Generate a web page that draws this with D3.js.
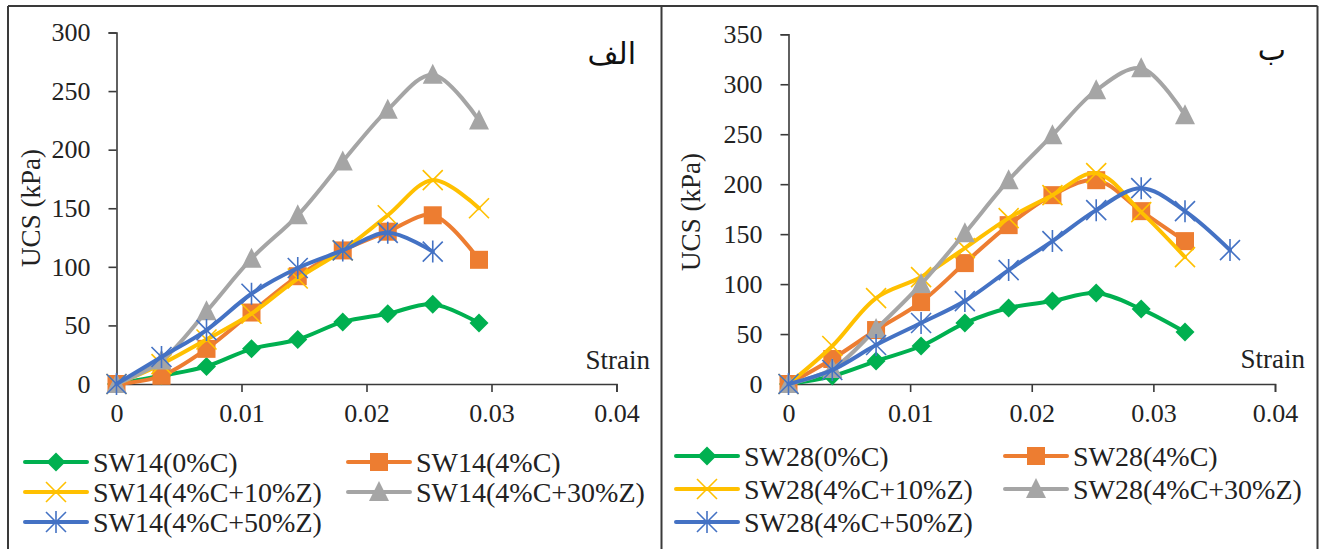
<!DOCTYPE html>
<html><head><meta charset="utf-8">
<script src="https://cdn.jsdelivr.net/npm/d3@7"></script>
<style>html,body{margin:0;padding:0;background:#fff;}svg{display:block;}</style>
</head><body>
<svg id="c" width="1319" height="549"></svg>
<script>
// ---- data ----
const strainSW14 = [0, 0.0036, 0.0072, 0.0108, 0.0145, 0.0181, 0.0217, 0.0253, 0.029];
const strainSW28 = [0, 0.0036, 0.0072, 0.0109, 0.0145, 0.0181, 0.0217, 0.0253, 0.029, 0.0326, 0.0363];
const namesSW14 = ["SW14(0%C)", "SW14(4%C)", "SW14(4%C+10%Z)", "SW14(4%C+30%Z)", "SW14(4%C+50%Z)"];
const namesSW28 = ["SW28(0%C)", "SW28(4%C)", "SW28(4%C+10%Z)", "SW28(4%C+30%Z)", "SW28(4%C+50%Z)"];
const sw14_0C   = [0, 7, 15, 30, 38, 53, 60, 68, 52];
const sw14_4C   = [0, 7, 30, 61, 92, 114, 130, 144, 106];
const sw14_10Z  = [0, 17, 38, 60, 90, 114, 144, 174, 150];
const sw14_30Z  = [0, 20, 62, 107, 144, 190, 234, 264, 225];
const sw14_50Z  = [0, 23, 46, 77, 99, 114, 129, 113];
const sw28_0C   = [0, 8, 23, 38, 61, 76, 83, 91, 75, 52];
const sw28_4C   = [0, 25, 54, 82, 121, 159, 189, 204, 173, 143];
const sw28_10Z  = [0, 38, 86, 107, 136, 166, 189, 211, 172, 127];
const sw28_30Z  = [0, 15, 55, 100, 151, 204, 249, 294, 316, 269];
const sw28_50Z  = [0, 14, 39, 61, 83, 114, 143, 174, 196, 173, 134];
const xTicks = [0, 0.01, 0.02, 0.03, 0.04];
const yTicksA = [0, 50, 100, 150, 200, 250, 300];
const yTicksB = [0, 50, 100, 150, 200, 250, 300, 350];
const colors = ["#00B050", "#ED7D31", "#FFC000", "#A5A5A5", "#4472C4"];
const markers = ["diamond", "square", "x", "triangle", "star"];

const svg = d3.select("#c");
const SERIF = "'Liberation Serif','Times New Roman',serif";

// frame
const fr = svg.append("g").attr("stroke", "#3a3a3a").attr("stroke-width", 2);
fr.append("line").attr("x1", 8).attr("x2", 1317.5).attr("y1", 6).attr("y2", 6);
fr.append("line").attr("x1", 8).attr("x2", 8).attr("y1", 6).attr("y2", 549);
fr.append("line").attr("x1", 661.5).attr("x2", 661.5).attr("y1", 6).attr("y2", 549);
fr.append("line").attr("x1", 1317.5).attr("x2", 1317.5).attr("y1", 6).attr("y2", 549);

function marker(g, type, x, y, color) {
  const s = 9.5;
  if (type === "diamond") {
    g.append("path").attr("d", `M${x},${y - s}L${x + s},${y}L${x},${y + s}L${x - s},${y}Z`).attr("fill", color);
  } else if (type === "square") {
    g.append("rect").attr("x", x - 9).attr("y", y - 9).attr("width", 18).attr("height", 18).attr("fill", color);
  } else if (type === "triangle") {
    g.append("path").attr("d", `M${x},${y - 11}L${x + 10},${y + 9}L${x - 10},${y + 9}Z`).attr("fill", color);
  } else if (type === "x") {
    g.append("path").attr("d", `M${x - 10},${y - 10}L${x + 10},${y + 10}M${x - 10},${y + 10}L${x + 10},${y - 10}`)
      .attr("stroke", color).attr("stroke-width", 1.6).attr("fill", "none");
  } else if (type === "star") {
    g.append("path").attr("d", `M${x - 10},${y - 10}L${x + 10},${y + 10}M${x - 10},${y + 10}L${x + 10},${y - 10}M${x},${y - 11}L${x},${y + 11}`)
      .attr("stroke", color).attr("stroke-width", 1.6).attr("fill", "none");
  }
}

function panel(cfg) {
  const x = d3.scaleLinear().domain([0, 0.04]).range(cfg.xr);
  const y = d3.scaleLinear().domain([0, cfg.ymax]).range(cfg.yr);
  const g = svg.append("g");
  // axes
  const ax = g.append("g").attr("transform", `translate(0,${y(0)})`)
    .call(d3.axisBottom(x).tickValues(xTicks).tickSize(8).tickPadding(12).tickFormat(d => d === 0 ? "0" : d3.format(".2f")(d)));
  ax.select(".domain").attr("stroke", "#3a3a3a").attr("stroke-width", 1.6);
  ax.selectAll(".tick line").attr("stroke", "#3a3a3a").attr("stroke-width", 1.6);
  ax.selectAll("text").attr("font-family", SERIF).attr("font-size", 26).attr("fill", "#222").attr("dy", "0.71em");
  const ay = g.append("g").attr("transform", `translate(${x(0)},0)`)
    .call(d3.axisLeft(y).tickValues(cfg.yTicks).tickSize(8).tickPadding(18));
  ay.select(".domain").attr("stroke", "#3a3a3a").attr("stroke-width", 1.6);
  ay.selectAll(".tick line").attr("stroke", "#3a3a3a").attr("stroke-width", 1.6);
  ay.selectAll("text").attr("font-family", SERIF).attr("font-size", 26).attr("fill", "#222");
  // titles
  g.append("text").attr("transform", `translate(${cfg.ytx},${cfg.yty}) rotate(-90)`)
    .attr("text-anchor", "middle").attr("dy", "0.35em")
    .attr("font-family", SERIF).attr("font-size", 27).attr("fill", "#222").text("UCS (kPa)");
  g.append("text").attr("x", cfg.strainX).attr("y", cfg.strainY).attr("text-anchor", "end")
    .attr("font-family", SERIF).attr("font-size", 27).attr("fill", "#222").text("Strain");
  g.append("text").attr("x", cfg.labX).attr("y", cfg.labY).attr("text-anchor", "end")
    .attr("font-family", "'DejaVu Sans','Noto Sans',sans-serif").attr("font-size", 30).attr("fill", "#111").text(cfg.label);
  // series
  const line = d3.line().x(d => x(d[0])).y(d => y(d[1])).curve(d3.curveCatmullRom.alpha(0.5));
  cfg.series.forEach((vals, i) => {
    const pts = vals.map((v, j) => [cfg.strain[j], v]);
    const sg = g.append("g");
    sg.append("path").attr("d", line(pts)).attr("fill", "none").attr("stroke", colors[i])
      .attr("stroke-width", 4).attr("stroke-linejoin", "round").attr("stroke-linecap", "round");
    pts.forEach(p => marker(sg, markers[i], x(p[0]), y(p[1]), colors[i]));
  });
  // legend
  cfg.names.forEach((n, i) => {
    const lp = cfg.legendPos[i];
    const lg = g.append("g");
    lg.append("line").attr("x1", lp[0]).attr("x2", lp[0] + 62).attr("y1", lp[1]).attr("y2", lp[1])
      .attr("stroke", colors[i]).attr("stroke-width", 4).attr("stroke-linecap", "round");
    marker(lg, markers[i], lp[0] + 31, lp[1], colors[i]);
    lg.append("text").attr("x", lp[0] + 68).attr("y", lp[1]).attr("dy", "0.35em")
      .attr("font-family", SERIF).attr("font-size", 28).attr("fill", "#222").text(n);
  });
}

panel({
  xr: [116.5, 616.5], yr: [384, 32.5], ymax: 300, yTicks: yTicksA,
  strain: strainSW14, series: [sw14_0C, sw14_4C, sw14_10Z, sw14_30Z, sw14_50Z], names: namesSW14,
  ytx: 31, yty: 208, strainX: 650, strainY: 369, labX: 636, labY: 64, label: "الف",
  legendPos: [[25, 462], [348, 462], [25, 492], [348, 492], [25, 522]]
});
panel({
  xr: [788.5, 1275], yr: [384, 34.3], ymax: 350, yTicks: yTicksB,
  strain: strainSW28, series: [sw28_0C, sw28_4C, sw28_10Z, sw28_30Z, sw28_50Z], names: namesSW28,
  ytx: 691, yty: 212, strainX: 1305, strainY: 368, labX: 1286, labY: 60, label: "ب",
  legendPos: [[676, 456], [1005, 456], [676, 489], [1005, 489], [676, 522]]
});
</script>
</body></html>
